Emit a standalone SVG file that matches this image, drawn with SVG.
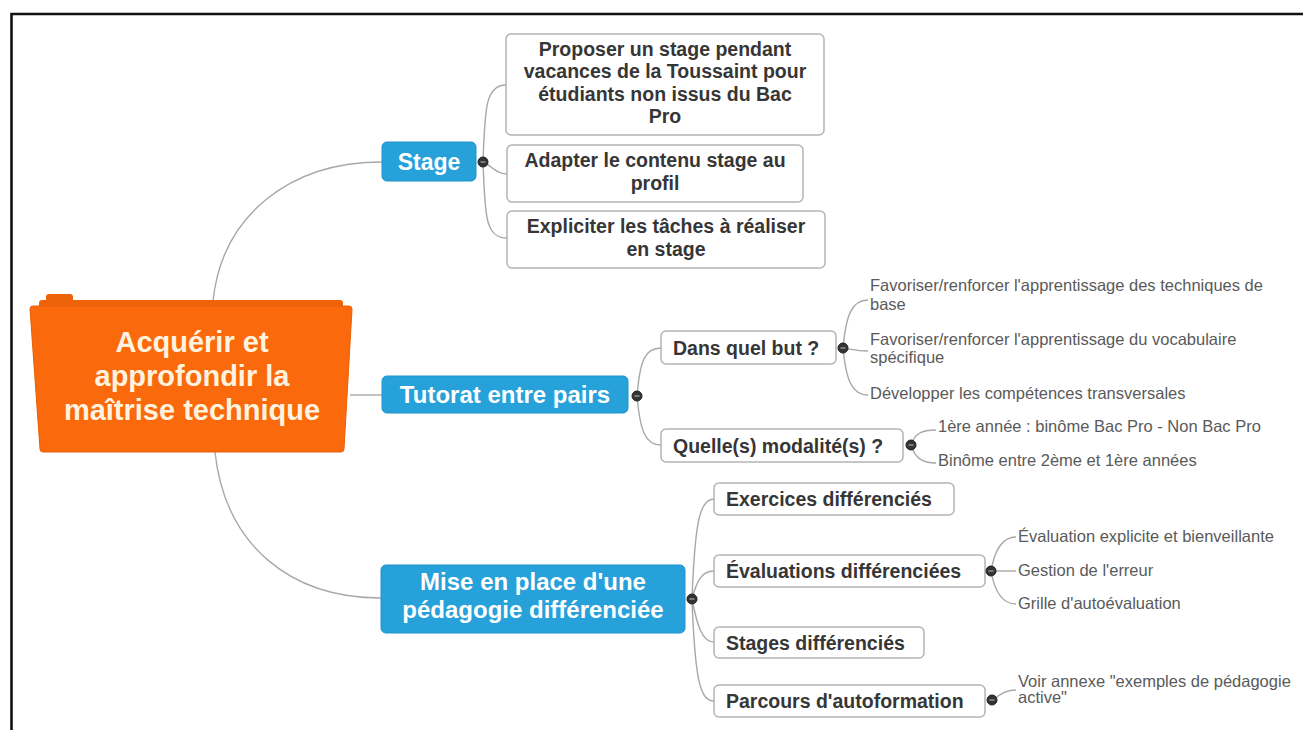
<svg xmlns="http://www.w3.org/2000/svg" width="1303" height="730" viewBox="0 0 1303 730">
<style>
.ln{fill:none;stroke:#a8a8a8;stroke-width:1.4}
.blue{fill:#27a1da;stroke:#1f93cc;stroke-width:1}
.box{fill:#fff;stroke:#b4b4b4;stroke-width:1.5}
.bt{font-family:"Liberation Sans",Arial,sans-serif;font-weight:bold;fill:#fff}
.ct{font-family:"Liberation Sans",Arial,sans-serif;font-weight:bold;font-size:19.5px;fill:#363636}
.lf{font-family:"Liberation Sans",Arial,sans-serif;font-size:16.5px;fill:#5a5a5a}
.dot{fill:#333;stroke:#222;stroke-width:1}
.dm{stroke:#9a9a9a;stroke-width:1.4}
</style>
<rect x="0" y="0" width="1303" height="730" fill="#fff"/>
<path d="M11.5,730 V14 H1303" fill="none" stroke="#111" stroke-width="2.6"/>

<g id="connectors">
<path class="ln" d="M213,301 C222,215 290,162 382,162"/>
<path class="ln" d="M350,395 L382,395"/>
<path class="ln" d="M215,452 C225,545 290,598 381,598"/>
<path class="ln" d="M483,162 C485,110 485,85 506,85"/>
<path class="ln" d="M483,162 C490,164 495,174 507,174"/>
<path class="ln" d="M483,162 C485,215 485,238 507,238"/>
<path class="ln" d="M637,396 C640,360 645,348 661,348"/>
<path class="ln" d="M637,396 C640,430 645,445 661,445"/>
<path class="ln" d="M843,348 C846,315 852,300 868,300"/>
<path class="ln" d="M843,348 C855,350 858,351 868,351"/>
<path class="ln" d="M843,348 C846,380 852,395 868,395"/>
<path class="ln" d="M911,445 C915,433 922,430 936,430"/>
<path class="ln" d="M911,445 C915,458 922,463 936,463"/>
<path class="ln" d="M692,599 C695,520 700,499 714,499"/>
<path class="ln" d="M692,599 C697,580 702,571 714,571"/>
<path class="ln" d="M692,599 C697,625 702,642 714,642"/>
<path class="ln" d="M692,599 C695,680 700,701 714,701"/>
<path class="ln" d="M991,571 C995,548 1003,537 1016,537"/>
<path class="ln" d="M991,571 L1016,571"/>
<path class="ln" d="M991,571 C995,594 1003,604 1016,604"/>
<path class="ln" d="M992,700 C1000,695 1005,690 1016,690"/>
</g>

<g id="central">
<rect x="46" y="294" width="27" height="14" rx="3" fill="#ee6208"/>
<rect x="39" y="300" width="304" height="20" rx="3" fill="#ee6208"/>
<path d="M33,306 H349 Q352,306 352,309 L344,449 Q344,452 341,452 H43 Q40,452 40,449 L30,309 Q30,306 33,306 Z" fill="#fa6a0c" stroke="#e85f06" stroke-width="1"/>
<text class="bt" font-size="29" fill="#fff3df" text-anchor="middle" style="fill:#fff3df"><tspan x="192" y="352">Acquérir et</tspan><tspan x="192" y="386">approfondir la</tspan><tspan x="192" y="420">maîtrise technique</tspan></text>
</g>

<g id="stage">
<rect class="blue" x="382" y="142" width="94" height="39" rx="5"/>
<text class="bt" font-size="23" x="429" y="170" text-anchor="middle">Stage</text>
<circle class="dot" cx="483" cy="162" r="5"/><line class="dm" x1="480.5" y1="162" x2="485.5" y2="162"/>
</g>
<g id="stage-1">
<rect class="box" x="506" y="34" width="318" height="101" rx="5"/>
<text class="ct" text-anchor="middle"><tspan x="665" y="56">Proposer un stage pendant</tspan><tspan x="665" y="78">vacances de la Toussaint pour</tspan><tspan x="665" y="101">étudiants non issus du Bac</tspan><tspan x="665" y="123">Pro</tspan></text>
</g>
<g id="stage-2">
<rect class="box" x="507" y="145" width="296" height="57" rx="5"/>
<text class="ct" text-anchor="middle"><tspan x="655" y="167">Adapter le contenu stage au</tspan><tspan x="655" y="190">profil</tspan></text>
</g>
<g id="stage-3">
<rect class="box" x="507" y="211" width="318" height="57" rx="5"/>
<text class="ct" text-anchor="middle"><tspan x="666" y="233">Expliciter les tâches à réaliser</tspan><tspan x="666" y="256">en stage</tspan></text>
</g>

<g id="tutorat">
<rect class="blue" x="382" y="376" width="246" height="37" rx="5"/>
<text class="bt" font-size="24" x="505" y="403" text-anchor="middle">Tutorat entre pairs</text>
<circle class="dot" cx="637" cy="396" r="5"/><line class="dm" x1="634.5" y1="396" x2="639.5" y2="396"/>
</g>
<g id="but">
<rect class="box" x="661" y="331" width="175" height="33" rx="5"/>
<text class="ct" x="673" y="355">Dans quel but ?</text>
<circle class="dot" cx="843" cy="348" r="5"/><line class="dm" x1="840.5" y1="348" x2="845.5" y2="348"/>
</g>
<g id="but-leaves">
<text class="lf"><tspan x="870" y="291">Favoriser/renforcer l'apprentissage des techniques de</tspan><tspan x="870" y="310">base</tspan></text>
<text class="lf"><tspan x="870" y="345">Favoriser/renforcer l'apprentissage du vocabulaire</tspan><tspan x="870" y="363">spécifique</tspan></text>
<text class="lf" x="870" y="399">Développer les compétences transversales</text>
</g>
<g id="modalites">
<rect class="box" x="661" y="429" width="242" height="33" rx="5"/>
<text class="ct" x="673" y="453">Quelle(s) modalité(s) ?</text>
<circle class="dot" cx="911" cy="445" r="5"/><line class="dm" x1="908.5" y1="445" x2="913.5" y2="445"/>
</g>
<g id="modalites-leaves">
<text class="lf" x="938" y="432">1ère année : binôme Bac Pro - Non Bac Pro</text>
<text class="lf" x="938" y="466">Binôme entre 2ème et 1ère années</text>
</g>

<g id="mise">
<rect class="blue" x="381" y="565" width="304" height="68" rx="5"/>
<text class="bt" font-size="24" text-anchor="middle"><tspan x="533" y="590">Mise en place d'une</tspan><tspan x="533" y="618">pédagogie différenciée</tspan></text>
<circle class="dot" cx="692" cy="599" r="5"/><line class="dm" x1="689.5" y1="599" x2="694.5" y2="599"/>
</g>
<g id="exercices">
<rect class="box" x="714" y="483" width="240" height="32" rx="5"/>
<text class="ct" x="726" y="506">Exercices différenciés</text>
</g>
<g id="evaluations">
<rect class="box" x="714" y="555" width="271" height="32" rx="5"/>
<text class="ct" x="726" y="578">Évaluations différenciées</text>
<circle class="dot" cx="991" cy="571" r="5"/><line class="dm" x1="988.5" y1="571" x2="993.5" y2="571"/>
</g>
<g id="evaluations-leaves">
<text class="lf" x="1018" y="542">Évaluation explicite et bienveillante</text>
<text class="lf" x="1018" y="576">Gestion de l'erreur</text>
<text class="lf" x="1018" y="609">Grille d'autoévaluation</text>
</g>
<g id="stages">
<rect class="box" x="714" y="627" width="210" height="31" rx="5"/>
<text class="ct" x="726" y="650">Stages différenciés</text>
</g>
<g id="parcours">
<rect class="box" x="714" y="685" width="271" height="32" rx="5"/>
<text class="ct" x="726" y="708">Parcours d'autoformation</text>
<circle class="dot" cx="992" cy="700" r="5"/><line class="dm" x1="989.5" y1="700" x2="994.5" y2="700"/>
</g>
<g id="parcours-leaf">
<text class="lf"><tspan x="1018" y="687">Voir annexe "exemples de pédagogie</tspan><tspan x="1018" y="703">active"</tspan></text>
</g>
</svg>
